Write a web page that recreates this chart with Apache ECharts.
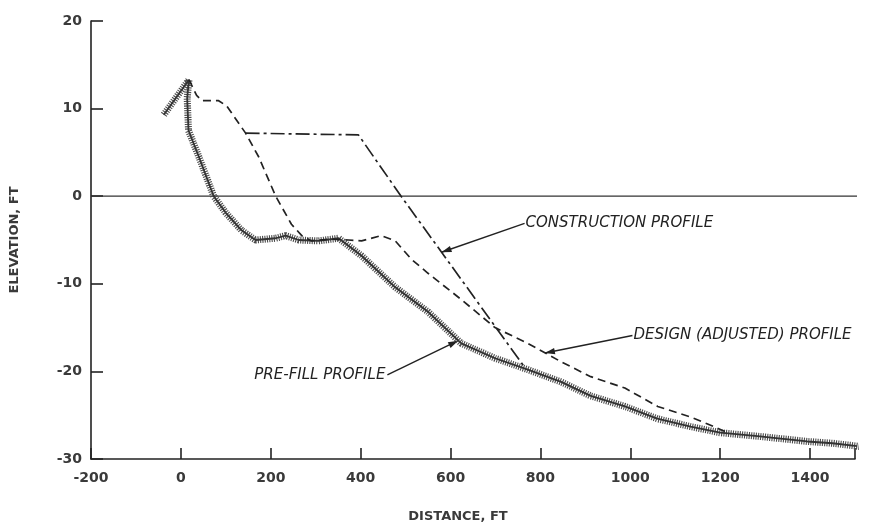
<!DOCTYPE html>
<html>
<head>
<meta charset="utf-8">
<script src="https://cdn.jsdelivr.net/npm/echarts@6/dist/echarts.min.js"></script>
<style>
html,body{margin:0;padding:0;background:#fff;}
#c{width:870px;height:528px;}
</style>
</head>
<body>
<div id="c"></div>
<script>
// ---- data (distance ft, elevation ft) ----
const prefillX = [-38, 18, 14, 17, 40, 73, 100, 135, 166, 211, 233, 262, 306, 351, 402, 477, 550, 624, 699, 772, 846, 912, 988, 1060, 1134, 1200, 1283, 1340, 1394, 1450, 1500, 1530];
const prefillY = [9.3, 13.3, 11.2, 7.5, 4.5, 0, -1.9, -3.9, -5.0, -4.8, -4.5, -5.0, -5.1, -4.8, -6.8, -10.4, -13.2, -16.8, -18.5, -19.8, -21.2, -22.8, -24.0, -25.4, -26.3, -27.0, -27.4, -27.7, -28.0, -28.2, -28.5, -28.7];

const designX = [18, 35, 47, 84, 102, 144, 173, 211, 246, 269, 290, 330, 373, 402, 446, 477, 513, 550, 624, 699, 772, 846, 912, 988, 1061, 1134, 1172, 1212];
const designY = [13.3, 11.5, 10.9, 10.9, 10.3, 7.2, 4.5, 0, -3.2, -4.5, -5.1, -4.9, -5.0, -5.1, -4.5, -5.1, -7.2, -8.8, -11.8, -15.0, -16.8, -18.9, -20.6, -21.9, -24.0, -25.2, -26.0, -26.9];

const constructionX = [144, 395, 490, 766];
const constructionY = [7.2, 7.0, 0, -19.6];

const zeroLineX = [-200, 1535];
const zeroLineY = [0, 0];

const xTicks = [-200, 0, 200, 400, 600, 800, 1000, 1200, 1400];
const yTicks = [-30, -10, -20, 0, 10, 20];

const labelTexts = ['CONSTRUCTION PROFILE', 'DESIGN (ADJUSTED) PROFILE', 'PRE-FILL PROFILE'];
// annotation anchors (data coords): label anchor, arrow tip
const annoAnchorX = [767, 1007, 455];
const annoAnchorY = [-3.1, -15.9, -20.4];
const annoTipX = [580, 810, 617];
const annoTipY = [-6.4, -17.9, -16.5];
const annoAlign = ['left', 'left', 'right'];

function zip(a, b) { return a.map((v, i) => [v, b[i]]); }

const chart = echarts.init(document.getElementById('c'), null, {renderer: 'canvas'});
const ink = '#222';
const tickFont = {color: '#3a3a3a', fontFamily: 'DejaVu Sans', fontSize: 14, fontWeight: 'bold'};

const option = {
  animation: false,
  backgroundColor: '#fff',
  grid: {left: 89, top: 21, right: 15, bottom: 68},
  xAxis: {
    type: 'value', min: -200, max: 1500, interval: 200,
    name: 'DISTANCE, FT', nameLocation: 'middle', nameGap: 51,
    nameTextStyle: {color: '#3a3a3a', fontFamily: 'DejaVu Sans', fontSize: 13, fontWeight: 'bold', padding: [0, 30, 0, 0]},
    axisLine: {show: true, onZero: false, lineStyle: {color: ink, width: 1.6}},
    axisTick: {show: true, inside: true, length: 11, lineStyle: {color: ink, width: 1.6}},
    axisLabel: Object.assign({margin: 12, formatter: v => xTicks.includes(v) ? String(v) : ''}, tickFont),
    splitLine: {show: false}
  },
  yAxis: {
    type: 'value', min: -30, max: 20, interval: 10,
    name: 'ELEVATION, FT', nameLocation: 'middle', nameGap: 70, nameRotate: 90,
    nameTextStyle: {color: '#3a3a3a', fontFamily: 'DejaVu Sans', fontSize: 13, fontWeight: 'bold'},
    axisLine: {show: true, onZero: false, lineStyle: {color: ink, width: 1.6}},
    axisTick: {show: true, inside: true, length: 12, lineStyle: {color: ink, width: 1.6}},
    axisLabel: Object.assign({margin: 9, formatter: v => yTicks.includes(v) ? String(v) : ''}, tickFont),
    splitLine: {show: false}
  },
  series: [
    {
      name: 'zero', type: 'line', data: zip(zeroLineX, zeroLineY), showSymbol: false, clip: false,
      lineStyle: {color: '#333', width: 1.3}, z: 1
    },
    {
      name: 'Pre-fill hatch', type: 'line', data: zip(prefillX, prefillY), showSymbol: false, clip: false,
      lineStyle: {color: '#4a4a4a', width: 7, type: [1.1, 1.2]}, z: 2
    },
    {
      name: 'Pre-fill', type: 'line', data: zip(prefillX, prefillY), showSymbol: false, clip: false,
      lineStyle: {color: '#333', width: 1.8}, z: 3
    },
    {
      name: 'Design (adjusted)', type: 'line', data: zip(designX, designY), showSymbol: false,
      lineStyle: {color: ink, width: 1.7, type: [8, 5]}, z: 4
    },
    {
      name: 'Construction', type: 'line', data: zip(constructionX, constructionY), showSymbol: false,
      lineStyle: {color: ink, width: 1.7, type: [14, 4, 3, 4]}, z: 4
    }
  ]
};
chart.setOption(option);

// annotations: text + arrow, placed through the chart's own coordinate system
const graphics = [];
labelTexts.forEach((t, i) => {
  const a = chart.convertToPixel({gridIndex: 0}, [annoAnchorX[i], annoAnchorY[i]]);
  const p = chart.convertToPixel({gridIndex: 0}, [annoTipX[i], annoTipY[i]]);
  const left = annoAlign[i] === 'left';
  const start = [a[0] + (left ? -1 : 2), a[1]];
  graphics.push({
    type: 'text', x: a[0], y: a[1],
    style: {text: t, fill: '#222', font: 'italic 15px "DejaVu Sans"',
            align: left ? 'left' : 'right', verticalAlign: 'middle'}
  });
  graphics.push({
    type: 'line', shape: {x1: start[0], y1: start[1], x2: p[0], y2: p[1]},
    style: {stroke: '#222', lineWidth: 1.4}
  });
  const ang = Math.atan2(p[1] - start[1], p[0] - start[0]);
  const L = 10, W = 3.2;
  const bx = p[0] - L * Math.cos(ang), by = p[1] - L * Math.sin(ang);
  graphics.push({
    type: 'polygon',
    shape: {points: [[p[0], p[1]], [bx - W * Math.sin(ang), by + W * Math.cos(ang)], [bx + W * Math.sin(ang), by - W * Math.cos(ang)]]},
    style: {fill: '#222'}
  });
});
chart.setOption({graphic: graphics});
</script>
</body>
</html>
